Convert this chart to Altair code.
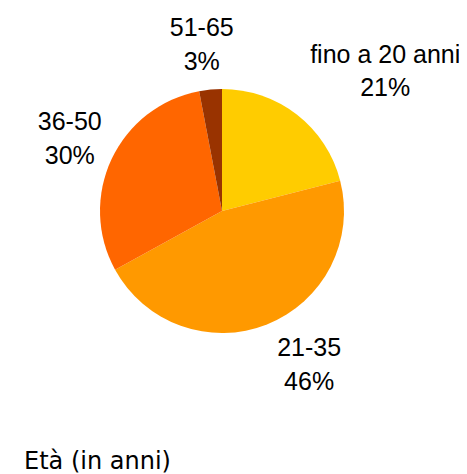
import altair as alt
import pandas as pd

# ---- data ----
categories = ["fino a 20 anni", "21-35", "36-50", "51-65"]
percent = [21, 46, 30, 3]
colors = ["#FFCC00", "#FF9900", "#FF6600", "#993300"]
title_text = "Età (in anni)"

df = pd.DataFrame({"cat": categories, "pct": percent})

# ---- layout ----
W, H = 451, 466
CX, CY, R = 214, 203, 122
LINE_H = 33.5
# per-label layout tweak: (angle shift in degrees, label radius in px)
label_layout = {
    "fino a 20 anni": (11.9, 214),
    "21-35": (-7.7, 178),
    "36-50": (-0.2, 168),
    "51-65": (-1.6, 166),
}


def lookup_expr(idx):
    expr = "0"
    for k, v in reversed(list(label_layout.items())):
        expr = f"datum.cat === '{k}' ? {v[idx]} : ({expr})"
    return expr


base = alt.Chart(df).transform_window(
    idx="row_number()", cum="sum(pct)", frame=[None, 0]
).transform_joinaggregate(total="sum(pct)")

pie = base.mark_arc(radius=R).encode(
    theta=alt.Theta("pct:Q", stack=True),
    order=alt.Order("idx:Q"),
    color=alt.Color("cat:N", scale=alt.Scale(domain=categories, range=colors), legend=None),
    x=alt.value(CX),
    y=alt.value(CY),
)

labels = base.transform_calculate(
    mid=f"2*PI*(datum.cum - datum.pct/2)/datum.total + ({lookup_expr(0)})*PI/180",
    lr=lookup_expr(1),
    label="[datum.cat, datum.pct + '%']",
).mark_text(
    font="Liberation Sans", fontSize=25, lineHeight=LINE_H,
    align="center", baseline="middle", color="#000000", dy=-LINE_H / 2 - 1,
).encode(
    theta=alt.Theta("mid:Q", scale=None, stack=None),
    radius=alt.Radius("lr:Q", scale=None),
    text="label:N",
    x=alt.value(CX),
    y=alt.value(CY),
)

title = alt.Chart(pd.DataFrame({"t": [title_text]})).mark_text(
    font="DejaVu Sans", fontSize=24, align="left", baseline="alphabetic", color="#000000"
).encode(text="t:N", x=alt.value(16), y=alt.value(461))

chart = alt.layer(pie, labels, title).properties(
    width=W, height=H, autosize=alt.AutoSizeParams(type="none"), padding=0
).configure_view(stroke=None)

chart.save("out.html", embed_options={"renderer": "svg", "actions": False})
